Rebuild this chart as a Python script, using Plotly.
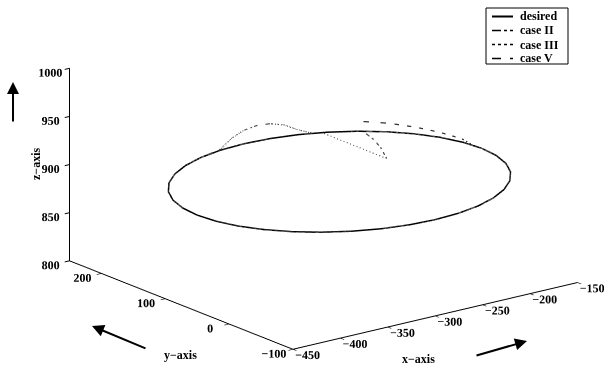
import plotly.graph_objects as go

# ---- data ----
# desired trajectory: circle r=150 around (-300, 50) at z=900, sampled every 10 deg
des_x = [-150.0, -152.3, -159.0, -170.1, -185.1, -203.6, -225.0, -248.7, -274.0, -300.0,
         -326.0, -351.3, -375.0, -396.4, -414.9, -429.9, -441.0, -447.7, -450.0,
         -447.7, -441.0, -429.9, -414.9, -396.4, -375.0, -351.3, -326.0, -300.0,
         -274.0, -248.7, -225.0, -203.6, -185.1, -170.1, -159.0, -152.3, -150.0]
des_y = [50.0, 76.0, 101.3, 125.0, 146.4, 164.9, 179.9, 191.0, 197.7, 200.0,
         197.7, 191.0, 179.9, 164.9, 146.4, 125.0, 101.3, 76.0, 50.0,
         24.0, -1.3, -25.0, -46.4, -64.9, -79.9, -91.0, -97.7, -100.0,
         -97.7, -91.0, -79.9, -64.9, -46.4, -25.0, -1.3, 24.0, 50.0]
des_z = [900.0] * len(des_x)

# case II: from start point, bends onto the circle, goes round, with a bump near the end
c2_x = [-230.0, -216.0, -207.0, -203.0, -200.0, -185.1, -170.1, -159.0, -152.3, -150.0,
        -152.3, -159.0, -170.1, -185.1, -203.6, -225.0, -248.7, -274.0, -300.0,
        -326.0, -351.3, -375.0, -396.4, -414.9, -429.9, -441.0, -447.7, -450.0,
        -447.7, -441.0, -429.9, -414.9, -396.4, -375.0, -351.3,
        -326.0, -313.1, -300.0, -286.9, -274.0, -261.2, -248.7, -236.6]
c2_y = [80.0, 110.0, 134.0, 150.0, 161.0, 146.4, 125.0, 101.3, 76.0, 50.0,
        24.0, -1.3, -25.0, -46.4, -64.9, -79.9, -91.0, -97.7, -100.0,
        -97.7, -91.0, -79.9, -64.9, -46.4, -25.0, -1.3, 24.0, 50.0,
        76.0, 101.3, 125.0, 146.4, 164.9, 179.9, 191.0,
        197.7, 199.4, 200.0, 199.4, 197.7, 194.9, 191.0, 185.9]
c2_z = [900.0, 900.0, 900.0, 900.0, 900.0, 900.0, 900.0, 900.0, 900.0, 900.0,
        900.0, 900.0, 900.0, 900.0, 900.0, 900.0, 900.0, 900.0, 900.0,
        900.0, 900.0, 900.0, 900.0, 900.0, 900.0, 900.0, 900.0, 900.0,
        900.0, 900.0, 900.0, 900.0, 900.0, 900.0, 900.0,
        901.0, 909.0, 914.0, 916.0, 915.5, 912.0, 905.0, 900.0]

# case III: straight from the start point to the circle, then round
c3_x = [-230.0, -229.6, -221.8, -199.6, -185.1, -170.1, -159.0, -152.3, -150.0,
        -152.3, -159.0, -170.1, -185.1, -203.6, -225.0, -248.7, -274.0, -300.0,
        -326.0, -351.3, -375.0, -396.4, -414.9, -429.9, -441.0, -447.7, -450.0,
        -447.7, -441.0, -429.9, -414.9, -396.4, -375.0, -351.3, -326.0, -300.0,
        -274.0, -248.7]
c3_y = [80.0, 182.4, 178.6, 161.5, 146.4, 125.0, 101.3, 76.0, 50.0,
        24.0, -1.3, -25.0, -46.4, -64.9, -79.9, -91.0, -97.7, -100.0,
        -97.7, -91.0, -79.9, -64.9, -46.4, -25.0, -1.3, 24.0, 50.0,
        76.0, 101.3, 125.0, 146.4, 164.9, 179.9, 191.0, 197.7, 200.0,
        197.7, 191.0]
c3_z = [900.0] * len(c3_x)

# case V: starts a little above the circle and settles onto it
c5_x = [-199.6, -192.4, -185.1, -177.3, -170.1, -164.2, -159.0, -155.1, -152.3, -150.6,
        -150.0, -152.3, -159.0, -170.1, -185.1, -203.6, -225.0, -248.7, -274.0, -300.0,
        -326.0, -351.3, -375.0, -396.4, -414.9, -429.9, -441.0, -447.7, -450.0,
        -447.7, -441.0, -429.9, -414.9, -396.4, -375.0, -351.3, -326.0, -300.0,
        -274.0, -248.7, -225.0]
c5_y = [161.5, 154.2, 146.4, 136.2, 125.0, 113.8, 101.3, 88.8, 76.0, 63.1,
        50.0, 24.0, -1.3, -25.0, -46.4, -64.9, -79.9, -91.0, -97.7, -100.0,
        -97.7, -91.0, -79.9, -64.9, -46.4, -25.0, -1.3, 24.0, 50.0,
        76.0, 101.3, 125.0, 146.4, 164.9, 179.9, 191.0, 197.7, 200.0,
        197.7, 191.0, 179.9]
c5_z = [910.0, 909.5, 909.0, 908.0, 907.0, 906.0, 905.0, 904.0, 903.0, 900.0,
        900.0, 900.0, 900.0, 900.0, 900.0, 900.0, 900.0, 900.0, 900.0, 900.0,
        900.0, 900.0, 900.0, 900.0, 900.0, 900.0, 900.0, 900.0, 900.0,
        900.0, 900.0, 900.0, 900.0, 900.0, 900.0, 900.0, 900.0, 900.0,
        900.0, 900.0, 900.0]

x_ticks = [-450, -400, -350, -300, -250, -200, -150]
y_ticks = [-100, 0, 100, 200]
z_ticks = [800, 850, 900, 950, 1000]
x_range = [-450, -150]
y_range = [-100, 250]
z_range = [800, 1000]

legend_names = ["desired", "case II", "case III", "case V"]
legend_dash = ["solid", "dashdot", "dot", "dash"]

FONT = "Liberation Serif"

fig = go.Figure()
fig.add_trace(go.Scatter3d(x=des_x, y=des_y, z=des_z, mode="lines", name=legend_names[0],
                           line=dict(color="black", width=3)))
fig.add_trace(go.Scatter3d(x=c2_x, y=c2_y, z=c2_z, mode="lines", name=legend_names[1],
                           line=dict(color="#555555", width=2.5, dash="dashdot")))
fig.add_trace(go.Scatter3d(x=c3_x, y=c3_y, z=c3_z, mode="lines", name=legend_names[2],
                           line=dict(color="#555555", width=2, dash="dot")))
fig.add_trace(go.Scatter3d(x=c5_x, y=c5_y, z=c5_z, mode="lines", name=legend_names[3],
                           line=dict(color="#333333", width=2.5, dash="dash")))

axis_common = dict(showbackground=False, showgrid=False, zeroline=False, showline=True,
                   linecolor="black", linewidth=2, ticks="inside", tickcolor="black",
                   ticklen=6, tickwidth=2, showspikes=False, title=dict(text=""),
                   tickangle=0,
                   tickfont=dict(family=FONT, size=12, color="black"))

# view direction (towards the viewer) and screen "up" direction, in aspect units
DIR = (-0.581, -0.755, 0.305)
UP = (0.186, 0.242, 0.952)
k = 1.5
d = 0.062   # shift of the look-at point along screen-up (moves picture up)
cen = dict(x=-d * UP[0], y=-d * UP[1], z=-d * UP[2])
eye = dict(x=cen["x"] + DIR[0] * k, y=cen["y"] + DIR[1] * k, z=cen["z"] + DIR[2] * k)
A = 1.92

fig.update_layout(
    width=616, height=374,
    margin=dict(l=0, r=0, t=0, b=0),
    paper_bgcolor="white",
    font=dict(family=FONT, color="black"),
    showlegend=False,
    scene=dict(
        domain=dict(x=[0.05, 1.0], y=[0.0, 1.0]),
        xaxis=dict(range=x_range, tickvals=x_ticks,
                   ticktext=[f"<b>\u2212{abs(v)}</b>" for v in x_ticks], **axis_common),
        yaxis=dict(range=y_range, tickvals=y_ticks,
                   ticktext=[f"<b>{'\u2212' if v < 0 else ''}{abs(v)}</b>" for v in y_ticks], **axis_common),
        zaxis=dict(range=z_range, tickvals=z_ticks,
                   ticktext=[f"<b>{v}</b>" for v in z_ticks], **axis_common),
        aspectmode="manual",
        aspectratio=dict(x=1.0 * A, y=1.02 * A, z=0.563 * A),
        camera=dict(eye=eye, up=dict(x=0, y=0, z=1), center=cen,
                    projection=dict(type="orthographic")),
        bgcolor="white",
    ),
)

W, H = 616, 374
def P(px, py):
    return px / W, 1 - py / H

annots = []
shapes = []
# axis titles
for txt, (px, py), ang in [("<b>x\u2212axis</b>", (437, 368), 0),
                           ("<b>y\u2212axis</b>", (162, 364), 0),
                           ("<b>z\u2212axis</b>", (27, 164), -90)]:
    x, y = P(px, py)
    annots.append(dict(x=x, y=y, xref="paper", yref="paper", text=txt, showarrow=False,
                       textangle=ang, font=dict(family=FONT, size=12, color="black")))
# arrows (head, tail)
for (hx, hy), (tx, ty) in [((13, 82), (13, 123)), ((92, 326), (147, 349)), ((527, 341), (475, 356))]:
    x, y = P(hx, hy)
    annots.append(dict(x=x, y=y, xref="paper", yref="paper", text="", showarrow=True,
                       ax=tx - hx, ay=ty - hy, arrowhead=2, arrowsize=1.2, arrowwidth=2,
                       arrowcolor="black"))

# legend box drawn by hand (compact like the original)
x0, y0 = P(486, 8)
x1, y1 = P(568, 64)
shapes.append(dict(type="rect", xref="paper", yref="paper", x0=x0, y0=y0, x1=x1, y1=y1,
                   line=dict(color="black", width=1), fillcolor="white"))
rows = [16.5, 30.5, 44.5, 58.5]
for name, dash, ry in zip(legend_names, legend_dash, rows):
    lx0, ly = P(492, ry)
    lx1, _ = P(513, ry)
    shapes.append(dict(type="line", xref="paper", yref="paper", x0=lx0, y0=ly, x1=lx1, y1=ly,
                       line=dict(color="black", width=2 if dash == "solid" else 1.5, dash=dash)))
    tx, _ = P(518, ry)
    annots.append(dict(x=tx, y=ly, xref="paper", yref="paper", text=f"<b>{name}</b>",
                       showarrow=False, xanchor="left", yanchor="middle",
                       font=dict(family=FONT, size=12, color="black")))

fig.update_layout(annotations=annots, shapes=shapes)

fig.write_html("out.html", post_script="document.body.style.margin='0';",
               config={"displayModeBar": False})
